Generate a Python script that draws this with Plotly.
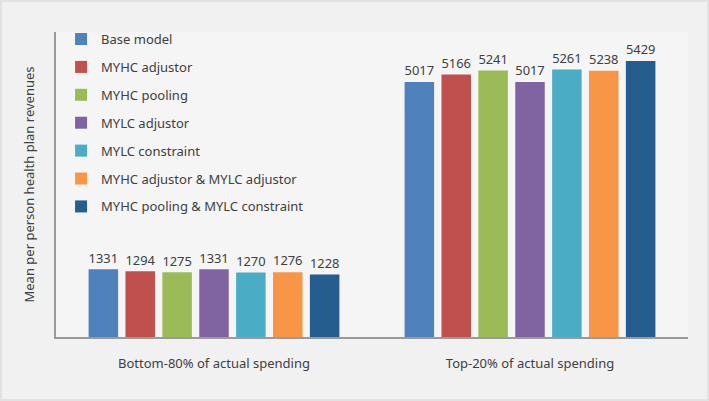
import plotly.graph_objects as go

categories = ["Bottom-80% of actual spending", "Top-20% of actual spending"]
series_names = [
    "Base model",
    "MYHC adjustor",
    "MYHC pooling",
    "MYLC adjustor",
    "MYLC constraint",
    "MYHC adjustor & MYLC adjustor",
    "MYHC pooling & MYLC constraint",
]
bottom80 = [1331, 1294, 1275, 1331, 1270, 1276, 1228]
top20 = [5017, 5166, 5241, 5017, 5261, 5238, 5429]
colors = ["#4F81BD", "#C0504D", "#9BBB59", "#8064A2", "#4BACC6", "#F79646", "#245D8E"]

FONT = "Noto Sans"
fig = go.Figure()
for i, name in enumerate(series_names):
    vals = [bottom80[i], top20[i]]
    fig.add_trace(go.Bar(
        x=categories, y=vals, name=name,
        marker=dict(color=colors[i], line=dict(width=0)),
        text=[str(v) for v in vals], textposition="outside",
        textfont=dict(family=FONT, size=14, color="#404040"),
        cliponaxis=False,
        legendgroup=name,
    ))

fig.update_layout(
    width=709, height=401,
    margin=dict(l=56, r=21, t=32, b=64),
    paper_bgcolor="#f1f1f1",
    plot_bgcolor="#f5f5f5",
    barmode="group",
    bargap=0.183,
    bargroupgap=0.2,
    font=dict(family=FONT, size=13, color="#404040"),
    showlegend=True,
    legend=dict(
        x=0.008, y=1.026, xanchor="left", yanchor="top",
        bgcolor="rgba(0,0,0,0)",
        font=dict(family=FONT, size=13, color="#404040"),
        tracegroupgap=8,
        itemwidth=30,
    ),
    xaxis=dict(
        showline=True, linecolor="#9a9a9a", linewidth=1.5,
        ticks="", showgrid=False, ticklabelstandoff=14,
        tickfont=dict(family=FONT, size=13, color="#404040"),
    ),
    yaxis=dict(
        range=[0, 6000], showline=True, linecolor="#9a9a9a", linewidth=1.5,
        showticklabels=False, ticks="", showgrid=False, zeroline=False,
        title=dict(text="Mean per person health plan revenues", standoff=17,
                   font=dict(family=FONT, size=13, color="#404040")),
    ),
    shapes=[dict(type="rect", xref="paper", yref="paper", x0=-56/632 + 1/632, x1=1 + 20/632,
                 y0=-64/305 + 1/305, y1=1 + 31/305, line=dict(color="#e2e2e2", width=2),
                 fillcolor="rgba(0,0,0,0)", layer="below")],
)

fig.write_html(
    "out.html",
    config={"displayModeBar": False},
    post_script="document.body.style.margin='0';document.body.style.background='#ffffff';",
)
